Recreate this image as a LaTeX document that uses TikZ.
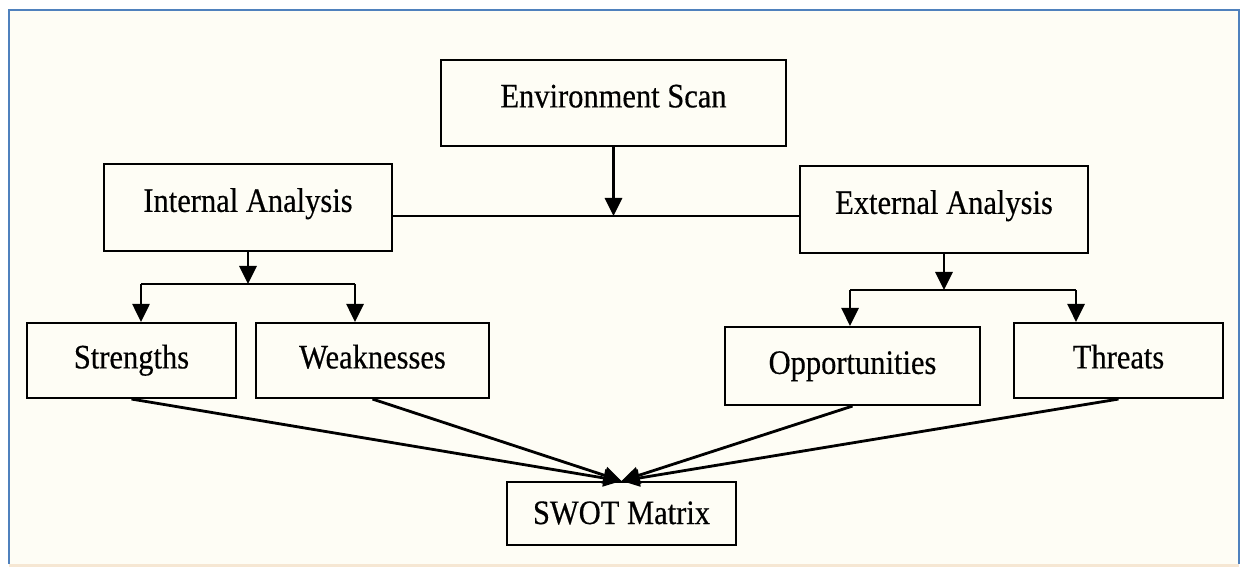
\documentclass[tikz,border=0pt]{standalone}
\usepackage{fontspec}
\setmainfont{Liberation Serif}[FakeStretch=0.89,FakeBold=0.4]
\usepackage{tikz}
\usetikzlibrary{calc}
\usetikzlibrary{arrows.meta}
\definecolor{framebl}{HTML}{4F81BD}
\definecolor{ivory}{HTML}{FEFDF5}
\definecolor{sand}{HTML}{F6E7D3}

\begin{document}
\begin{tikzpicture}[
    box/.style={draw,line width=1.2pt,inner sep=0pt,text height=14pt,text depth=5pt,font=\fontsize{19.5}{22}\selectfont},
    link/.style={line width=1.5pt},
    arr/.style={line width=1.6pt,-{Triangle[width=0.34cm,length=0.36cm]}}
]
\useasboundingbox (0,0) rectangle (24.8,11.34);
\fill[ivory] (0.18,0.06) rectangle (24.78,11.14);
\fill[sand] (0.18,0) rectangle (24.78,0.06);
\draw[framebl,line width=1.3pt] (0.18,0.06) -- (0.18,11.14) -- (24.78,11.14) -- (24.78,0.06);
\node[box,minimum width=6.9cm,minimum height=1.72cm,text depth=9pt] (env) at (12.27,9.28) {Environment Scan};
\node[box,minimum width=5.76cm,minimum height=1.74cm,text depth=9pt] (internal) at (4.96,7.19) {Internal Analysis};
\node[box,minimum width=5.76cm,minimum height=1.74cm,text depth=9pt] (external) at (18.88,7.15) {External Analysis};
\node[box,minimum width=4.18cm,minimum height=1.5cm] (strengths) at (2.63,4.13) {Strengths};
\node[box,minimum width=4.66cm,minimum height=1.5cm] (weaknesses) at (7.45,4.13) {Weaknesses};
\node[box,minimum width=5.1cm,minimum height=1.56cm] (opportunities) at (17.05,4.02) {Opportunities};
\node[box,minimum width=4.18cm,minimum height=1.5cm] (threats) at (22.37,4.13) {Threats};
\node[box,minimum width=4.58cm,minimum height=1.26cm,text depth=2pt] (swot) at (12.43,1.07) {SWOT Matrix};
% scan splits into internal / external
\coordinate (mid) at (env.south |- 0,7.02);
\draw[link] (internal.east |- mid) -- (external.west |- mid);
\draw[arr] (env.south) -- (mid);
% internal side
\coordinate (ibr) at (internal.south |- 0,5.66);
\coordinate (il) at (2.82,5.66);
\coordinate (ir) at (7.10,5.66);
\draw[arr] (internal.south) -- (ibr);
\draw[link] (il) -- (ir);
\draw[arr] (il) -- (il |- strengths.north);
\draw[arr] (ir) -- (ir |- weaknesses.north);
% external side
\coordinate (ebr) at (external.south |- 0,5.54);
\coordinate (el) at (17.0,5.54);
\coordinate (er) at (21.52,5.54);
\draw[arr] (external.south) -- (ebr);
\draw[link] (el) -- (er);
\draw[arr] (el) -- (el |- opportunities.north);
\draw[arr] (er) -- (er |- threats.north);
% all four into the matrix
\draw[arr] (strengths.south) -- (swot.north);
\draw[arr] (weaknesses.south) -- (swot.north);
\draw[arr] (opportunities.south) -- (swot.north);
\draw[arr] (threats.south) -- (swot.north);
\end{tikzpicture}
\end{document}
